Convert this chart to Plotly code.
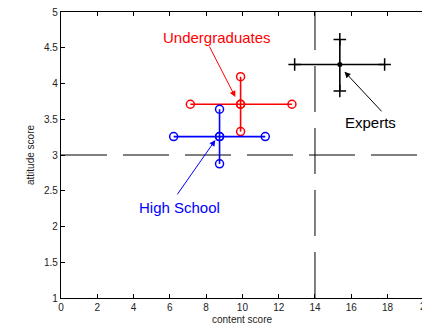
import plotly.graph_objects as go

# ---- data ----
groups = ["Undergraduates", "High School", "Experts"]
colors = ["#ff0000", "#0000ff", "#000000"]
content_mean = [9.9, 8.74, 15.37]
content_low = [7.13, 6.21, 12.88]
content_high = [12.73, 11.26, 17.84]
attitude_mean = [3.71, 3.257, 4.265]
attitude_low = [3.327, 2.876, 3.895]
attitude_high = [4.095, 3.64, 4.617]

# label positions and arrows (data coordinates)
label_x = [8.61, 6.52, 17.05]
label_y = [4.65, 2.26, 3.45]
arrow_tail_x = [8.14, 6.36, 17.75]
arrow_tail_y = [4.537, 2.43, 3.59]
arrow_tip_x = [9.61, 8.51, 15.63]
arrow_tip_y = [3.81, 3.21, 4.165]

ref_content = 14
ref_attitude = 3
x_max_visible = 19.9
x_ticks = [0, 2, 4, 6, 8, 10, 12, 14, 16, 18]
y_ticks = [1, 1.5, 2, 2.5, 3, 3.5, 4, 4.5, 5]
y_ticklabels = ["1", "1.5", "2", "2.5", "3", "3.5", "4", "4.5", "5"]

FONT = "Liberation Sans, Arial, Helvetica, sans-serif"

fig = go.Figure()

# dashed reference lines
fig.add_trace(go.Scatter(x=[0, 20], y=[ref_attitude, ref_attitude], mode="lines",
                         line=dict(color="black", width=1, dash="46px,16px"),
                         hoverinfo="skip", showlegend=False))
fig.add_trace(go.Scatter(x=[ref_content, ref_content], y=[1, 5], mode="lines",
                         line=dict(color="black", width=1, dash="46px,16px"),
                         hoverinfo="skip", showlegend=False))

for i, g in enumerate(groups):
    c = colors[i]
    if g == "Experts":
        end_marker = dict(symbol="cross-thin-open", size=9, line=dict(color=c, width=1.5), color=c)
        fig.add_trace(go.Scatter(x=[content_low[i], content_high[i]], y=[attitude_mean[i]] * 2,
                                 mode="lines+markers", line=dict(color=c, width=1.6),
                                 marker=end_marker, showlegend=False))
        fig.add_trace(go.Scatter(x=[content_mean[i]] * 2, y=[attitude_low[i], attitude_high[i]],
                                 mode="lines+markers", line=dict(color=c, width=1.6),
                                 marker=end_marker, showlegend=False))
        fig.add_trace(go.Scatter(x=[content_mean[i]], y=[attitude_mean[i]], mode="markers",
                                 marker=dict(symbol="circle", size=5, color=c), showlegend=False))
    else:
        m = dict(symbol="circle-open", size=8, line=dict(color=c, width=1.5), color=c)
        fig.add_trace(go.Scatter(x=[content_low[i], content_mean[i], content_high[i]],
                                 y=[attitude_mean[i]] * 3, mode="lines+markers",
                                 line=dict(color=c, width=1.6), marker=m, showlegend=False))
        fig.add_trace(go.Scatter(x=[content_mean[i]] * 3,
                                 y=[attitude_low[i], attitude_mean[i], attitude_high[i]],
                                 mode="lines+markers", line=dict(color=c, width=1.6),
                                 marker=m, showlegend=False))
    # label
    fig.add_annotation(x=label_x[i], y=label_y[i], text=g, showarrow=False,
                       font=dict(family=FONT, size=15, color=c))
    # arrow
    fig.add_annotation(x=arrow_tip_x[i], y=arrow_tip_y[i], ax=arrow_tail_x[i], ay=arrow_tail_y[i],
                       axref="x", ayref="y", text="", showarrow=True,
                       arrowhead=2, arrowsize=1.2, arrowwidth=1, arrowcolor=c)

# clipped "20" tick label at the right edge (partly outside the page, as in the reference)
fig.add_annotation(x=1.0, y=0, xref="paper", yref="paper", xanchor="left", yanchor="top",
                   text="20", showarrow=False, yshift=-1, xshift=-4,
                   font=dict(family=FONT, size=10, color="#222222"))

# axis titles
fig.add_annotation(x=0.5, y=0, xref="paper", yref="paper", yanchor="top", yshift=-14,
                   text="content score", showarrow=False,
                   font=dict(family=FONT, size=10, color="#222222"))
fig.add_annotation(x=0, y=0.5, xref="paper", yref="paper", xanchor="center", xshift=-31,
                   text="attitude score", showarrow=False, textangle=-90,
                   font=dict(family=FONT, size=10, color="#222222"))

fig.update_layout(
    width=422, height=326,
    margin=dict(l=61, r=0, t=12, b=28),
    paper_bgcolor="white", plot_bgcolor="white",
    font=dict(family=FONT, size=10, color="#222222"),
    xaxis=dict(range=[0, x_max_visible], tickvals=x_ticks, ticks="inside", ticklen=4,
               tickcolor="black", showline=True, linecolor="black", linewidth=1.3,
               mirror="ticks", showgrid=False, zeroline=False, automargin=False),
    yaxis=dict(range=[1, 5], tickvals=y_ticks, ticktext=y_ticklabels, ticks="inside",
               ticklen=4, tickcolor="black", showline=True, linecolor="black", linewidth=1.3,
               showgrid=False, zeroline=False, automargin=False),
)

fig.write_html("out.html", config={"displayModeBar": False},
               post_script="document.body.style.margin='0';document.body.style.overflow='hidden';")
